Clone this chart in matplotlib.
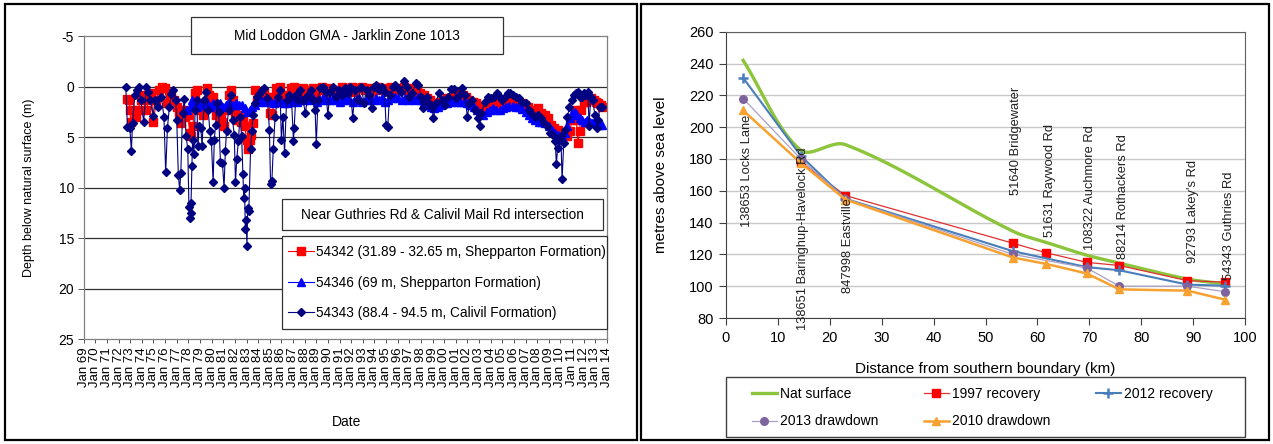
import numpy as np
import matplotlib
matplotlib.use("Agg")
import matplotlib.pyplot as plt
from matplotlib.patches import Rectangle

plt.rcParams['font.family'] = ['Liberation Sans', 'DejaVu Sans']
plt.rcParams['axes.unicode_minus'] = False

# ---------------- LEFT CHART DATA (decimal year, depth m) ----------------
left_title = "Mid Loddon GMA - Jarklin Zone 1013"
legend_title = "Near Guthries Rd & Calivil Mail Rd intersection"
series_names = ["54342 (31.89 - 32.65 m, Shepparton Formation)",
                "54346 (69 m, Shepparton Formation)",
                "54343 (88.4 - 94.5 m, Calivil Formation)"]

s54342_t = [1972.69, 1972.90, 1972.97, 1973.04, 1973.25, 1973.46, 1973.67, 1973.90, 1974.16, 1974.37,
            1974.60, 1974.80, 1975.00, 1975.25, 1975.50, 1975.74, 1975.95, 1976.17, 1976.40, 1976.55,
            1976.80, 1977.00, 1977.20, 1977.35, 1977.50, 1977.75, 1977.95, 1978.13, 1978.27, 1978.40,
            1978.58, 1978.75, 1978.90, 1979.07, 1979.25, 1979.42, 1979.63, 1979.77, 1979.98, 1980.16,
            1980.34, 1980.55, 1980.76, 1980.93, 1981.10, 1981.28, 1981.46, 1981.63, 1981.80, 1981.98,
            1982.16, 1982.33, 1982.50, 1982.70, 1982.86, 1983.00, 1983.14, 1983.28, 1983.42, 1983.56,
            1983.70, 1983.90, 1984.10, 1984.30, 1984.50, 1984.80, 1985.04, 1985.20, 1985.40, 1985.56,
            1985.74, 1985.90, 1986.10, 1986.30, 1986.55, 1986.80, 1987.07, 1987.36, 1987.60, 1987.88,
            1988.13, 1988.40, 1988.70, 1988.97, 1989.25, 1989.53, 1989.80, 1990.10, 1990.40, 1990.66,
            1990.93, 1991.20, 1991.50, 1991.76, 1992.06, 1992.34, 1992.60, 1992.90, 1993.18, 1993.46,
            1993.75, 1994.03, 1994.30, 1994.60, 1994.87, 1995.15, 1995.43, 1995.70, 1996.00, 1996.27,
            1996.55, 1996.83, 1997.10, 1997.40, 1997.67, 1997.96, 1998.24, 1998.50, 1998.80, 1999.08,
            1999.36, 1999.64, 1999.92, 2000.20, 2000.50, 2000.77, 2001.05, 2001.33, 2001.60, 2001.90,
            2002.17, 2002.45, 2002.73, 2003.00, 2003.30, 2003.57, 2003.85, 2004.13, 2004.40, 2004.70,
            2004.98, 2005.26, 2005.54, 2005.82, 2006.10, 2006.38, 2006.66, 2006.94, 2007.22, 2007.50,
            2007.78, 2008.07, 2008.35, 2008.63, 2008.90, 2009.20, 2009.47, 2009.75, 2010.03, 2010.30,
            2010.60, 2010.80, 2011.00, 2011.22, 2011.36, 2011.50, 2011.65, 2011.80, 2012.00, 2012.20,
            2012.42, 2012.63, 2012.84, 2013.05, 2013.26, 2013.47, 2013.60]
s54342_d = [1.25, 1.3, 2.3, 3.5, 2.3, 3.0, 2.3, 1.3, 0.8, 2.3,
            1.3, 0.65, 3.5, 1.3, 0.3, 0.05, 0.15, 1.6, 1.0, 0.65,
            1.3, 2.0, 2.6, 3.6, 2.3, 3.0, 2.8, 4.6, 4.9, 3.9,
            0.65, 0.3, 2.3, 2.0, 2.8, 2.0, 0.15, 0.8, 1.3, 1.0,
            2.8, 2.3, 3.0, 3.5, 3.9, 2.3, 0.8, 0.3, 1.3, 2.6,
            3.3, 2.8, 3.5, 3.1, 3.9, 5.3, 6.2, 5.3, 4.8, 3.6,
            0.3, 1.3, 0.8, 1.0, 0.5, 1.0, 2.6, 2.8, 1.0, 0.15,
            0.5, 0.05, 1.3, 0.8, 1.3, 0.15, 0.05, 1.0, 0.5, 0.15,
            0.65, 0.3, 0.15, 0.8, 0.3, 0.05, 0.5, 0.15, 0.3, 0.65,
            0.3, 0.05, 0.5, 0.15, 0.05, 0.5, 0.15, 0.05, 0.3, 0.15,
            0.5, 0.15, 0.05, 0.3, 0.15, 0.3, 0.05, 0.25, 0.15, 0.3,
            0.05, 0.3, 0.15, 0.5, 0.3, 0.65, 0.8, 1.15, 1.3, 1.6,
            1.8, 1.5, 1.3, 1.15, 1.15, 1.0, 0.65, 1.0, 0.8, 1.0,
            1.3, 1.5, 1.6, 2.0, 2.1, 1.8, 1.6, 1.8, 1.6, 1.6,
            1.8, 1.6, 1.5, 1.5, 1.5, 1.6, 1.6, 1.8, 2.0, 2.3,
            2.5, 2.1, 2.6, 2.8, 3.1, 3.8, 4.1, 4.3, 4.6, 4.9,
            4.9, 4.4, 3.3, 2.3, 3.3, 5.6, 4.4, 2.3, 1.5, 1.5,
            1.3, 1.15, 1.3, 1.5, 1.6, 1.8, 2.0]

s54346_t = [1977.88, 1978.13, 1978.30, 1978.52, 1978.72, 1978.93, 1979.18, 1979.42, 1979.63, 1979.88,
            1980.13, 1980.40, 1980.70, 1980.97, 1981.25, 1981.53, 1981.80, 1982.10, 1982.37, 1982.65,
            1982.86, 1983.07, 1983.28, 1983.50, 1983.74, 1984.00, 1984.27, 1984.55, 1984.83, 1985.10,
            1985.40, 1985.67, 1985.95, 1986.24, 1986.52, 1986.80, 1987.07, 1987.36, 1987.64, 1987.92,
            1988.20, 1988.48, 1988.76, 1989.04, 1989.32, 1989.60, 1989.90, 1990.17, 1990.45, 1990.73,
            1991.00, 1991.30, 1991.57, 1991.85, 1992.13, 1992.40, 1992.70, 1992.97, 1993.25, 1993.53,
            1993.80, 1994.10, 1994.38, 1994.66, 1994.94, 1995.20, 1995.50, 1995.78, 1996.06, 1996.34,
            1996.62, 1996.90, 1997.20, 1997.47, 1997.75, 1998.03, 1998.30, 1998.60, 1998.87, 1999.15,
            1999.43, 1999.70, 2000.00, 2000.27, 2000.55, 2000.84, 2001.12, 2001.40, 2001.68, 2001.96,
            2002.24, 2002.52, 2002.80, 2003.08, 2003.36, 2003.64, 2003.92, 2004.20, 2004.48, 2004.77,
            2005.05, 2005.33, 2005.60, 2005.90, 2006.17, 2006.45, 2006.73, 2007.00, 2007.30, 2007.57,
            2007.85, 2008.14, 2008.42, 2008.70, 2009.00, 2009.26, 2009.54, 2009.82, 2010.10, 2010.40,
            2010.60, 2010.80, 2011.00, 2011.22, 2011.43, 2011.65, 2011.86, 2012.07, 2012.28, 2012.50,
            2012.70, 2012.90, 2013.12, 2013.33, 2013.54]
s54346_d = [2.3, 2.0, 1.3, 1.6, 2.0, 1.6, 1.5, 1.8, 1.5, 2.0,
            1.6, 1.8, 1.6, 2.0, 1.8, 1.5, 1.8, 1.6, 1.8, 1.8,
            2.1, 2.5, 2.3, 2.0, 1.8, 1.5, 1.3, 1.5, 1.3, 1.5,
            1.6, 1.5, 1.5, 1.6, 1.6, 1.5, 1.3, 1.5, 1.3, 1.3,
            1.15, 1.3, 1.15, 1.5, 1.3, 1.15, 1.3, 1.3, 1.15, 1.3,
            1.5, 1.3, 1.15, 1.3, 1.5, 1.3, 1.15, 1.5, 1.3, 1.15,
            1.3, 1.15, 1.3, 1.15, 1.5, 1.3, 1.15, 1.0, 1.15, 1.3,
            1.15, 1.3, 1.15, 1.3, 1.0, 1.3, 1.5, 1.8, 2.0, 2.1,
            2.0, 1.8, 1.6, 1.6, 1.5, 1.3, 1.5, 1.5, 1.5, 1.6,
            1.8, 2.0, 2.3, 2.6, 2.8, 2.5, 2.3, 2.1, 2.3, 2.3,
            2.1, 2.0, 1.9, 1.9, 2.0, 2.05, 2.25, 2.5, 2.8, 3.1,
            3.3, 3.5, 3.5, 3.6, 3.9, 4.3, 4.6, 4.8, 4.9, 4.6,
            3.9, 3.1, 2.6, 2.5, 2.8, 3.1, 3.3, 3.5, 3.3, 3.5,
            3.6, 3.5, 3.6, 3.8, 3.8]

s54343_t = [1972.62, 1972.76, 1972.97, 1973.10, 1973.20, 1973.40, 1973.56, 1973.74, 1973.90, 1974.16,
            1974.37, 1974.50, 1974.70, 1974.97, 1975.14, 1975.40, 1975.67, 1975.90, 1976.05, 1976.20,
            1976.37, 1976.55, 1976.72, 1976.90, 1977.00, 1977.14, 1977.25, 1977.35, 1977.50, 1977.66,
            1977.80, 1977.95, 1978.05, 1978.13, 1978.20, 1978.23, 1978.30, 1978.36, 1978.48, 1978.58,
            1978.72, 1978.83, 1978.93, 1979.07, 1979.18, 1979.35, 1979.53, 1979.70, 1979.85, 1979.98,
            1980.13, 1980.23, 1980.34, 1980.48, 1980.60, 1980.76, 1980.93, 1981.07, 1981.18, 1981.28,
            1981.46, 1981.63, 1981.80, 1981.95, 1982.05, 1982.16, 1982.30, 1982.44, 1982.58, 1982.69,
            1982.76, 1982.83, 1982.90, 1982.97, 1983.04, 1983.10, 1983.20, 1983.35, 1983.46, 1983.56,
            1983.74, 1983.90, 1984.10, 1984.30, 1984.50, 1984.80, 1984.97, 1985.07, 1985.18, 1985.30,
            1985.46, 1985.67, 1985.88, 1986.00, 1986.13, 1986.27, 1986.45, 1986.65, 1986.86, 1987.04,
            1987.10, 1987.25, 1987.40, 1987.60, 1987.85, 1988.06, 1988.30, 1988.55, 1988.76, 1988.90,
            1989.00, 1989.15, 1989.36, 1989.60, 1989.80, 1990.00, 1990.17, 1990.40, 1990.66, 1990.93,
            1991.20, 1991.46, 1991.74, 1991.92, 1992.13, 1992.34, 1992.60, 1992.87, 1993.10, 1993.32,
            1993.57, 1993.75, 1993.95, 1994.17, 1994.38, 1994.62, 1994.87, 1995.00, 1995.15, 1995.30,
            1995.57, 1995.78, 1996.03, 1996.27, 1996.55, 1996.76, 1997.00, 1997.26, 1997.54, 1997.78,
            1998.03, 1998.17, 1998.30, 1998.50, 1998.73, 1998.94, 1999.08, 1999.30, 1999.53, 1999.78,
            2000.06, 2000.34, 2000.60, 2000.84, 2001.05, 2001.26, 2001.50, 2001.75, 2002.00, 2002.17,
            2002.40, 2002.63, 2002.87, 2003.05, 2003.20, 2003.50, 2003.75, 2004.03, 2004.27, 2004.52,
            2004.77, 2004.98, 2005.22, 2005.47, 2005.68, 2005.93, 2006.17, 2006.45, 2006.73, 2007.01,
            2007.26, 2007.50, 2007.78, 2008.07, 2008.30, 2008.56, 2008.84, 2009.12, 2009.37, 2009.54,
            2009.65, 2009.75, 2009.89, 2010.03, 2010.14, 2010.28, 2010.42, 2010.60, 2010.77, 2010.95,
            2011.12, 2011.30, 2011.47, 2011.65, 2011.82, 2012.00, 2012.17, 2012.35, 2012.46, 2012.60,
            2012.77, 2012.95, 2013.12, 2013.23, 2013.40, 2013.57]
s54343_d = [0.0, 4.0, 4.1, 6.4, 3.6, 0.8, 0.3, 0.0, 1.3, 3.5,
            0.0, 0.5, 1.3, 2.9, 1.3, 2.0, 1.0, 3.0, 8.5, 4.1,
            2.0, 0.7, 0.3, 1.3, 3.3, 8.8, 10.2, 8.6, 2.6, 1.25,
            4.9, 6.2, 11.9, 13.0, 12.5, 11.5, 7.9, 5.3, 6.7, 2.3,
            1.3, 5.9, 3.9, 4.1, 5.9, 1.3, 0.5, 2.3, 4.4, 5.4,
            9.5, 5.3, 3.8, 1.6, 2.5, 7.5, 7.6, 10.0, 6.4, 4.4,
            2.3, 0.8, 3.3, 4.8, 9.5, 7.2, 5.4, 3.0, 4.9, 8.7,
            11.0, 10.0, 14.1, 13.2, 15.8, 12.0, 12.3, 6.2, 4.4, 2.8,
            1.6, 1.0, 0.7, 0.3, 0.1, 1.15, 4.3, 9.7, 9.4, 6.2,
            3.0, 1.0, 0.3, 5.3, 3.0, 6.6, 1.3, 0.8, 1.0, 5.4,
            4.1, 0.8, 1.3, 0.3, 1.3, 2.6, 0.8, 0.3, 1.3, 2.3,
            5.7, 1.3, 0.15, 0.0, 0.5, 2.8, 0.5, 0.0, 1.0, 0.3,
            0.8, 0.15, 0.65, 0.0, 3.1, 0.3, 1.3, 0.05, 1.6, 0.3,
            0.8, 2.1, 0.05, -0.15, 0.3, 0.0, 0.5, 3.8, 4.0, 0.8,
            0.05, -0.15, 0.15, 0.5, -0.5, 0.05, 1.0, 0.65, -0.3, -0.15,
            1.0, 2.1, 1.5, 1.0, 1.6, 2.1, 3.1, 1.6, 0.6, 1.3,
            1.8, 1.0, 0.25, 0.25, 1.15, 0.8, 0.15, 0.8, 3.0, 1.6,
            1.3, 2.3, 3.1, 3.9, 2.6, 1.5, 1.0, 1.15, 1.0, 0.6,
            1.0, 1.3, 1.0, 0.65, 0.6, 0.8, 1.0, 1.15, 1.5, 1.6,
            2.3, 2.6, 3.0, 2.8, 3.1, 3.6, 3.9, 4.6, 4.8, 5.4,
            7.7, 6.1, 5.3, 4.9, 9.2, 5.6, 4.3, 3.0, 2.0, 1.3,
            0.8, 0.65, 0.5, 1.0, 1.0, 0.65, 0.8, 0.5, 3.9, 1.0,
            1.3, 2.8, 4.1, 3.3, 2.0, 2.0]

years = list(range(1969, 2015))
date_labels = [f"Jan {y % 100:02d}" for y in years]

# ---------------- RIGHT CHART DATA ----------------
stations = ["138653 Locks Lane", "138651 Baringhup-Havelock Rd", "847998 Eastville",
            "51640 Bridgewater", "51631 Raywood Rd", "108322 Auchmore Rd",
            "88214 Rothackers Rd", "92793 Lakey's Rd", "54343 Guthries Rd"]
station_km = [3.3, 14.4, 23.0, 55.3, 61.7, 69.5, 75.8, 88.9, 96.2]
nat_surface = [242, 185.5, 189, 134.5, 127.5, 119.5, 114.5, 104.5, 101.5]
rec1997_km = [14.4, 23.0, 55.3, 61.7, 69.5, 75.8, 88.9, 96.2]
rec1997 = [178, 157, 127, 121, 115, 113, 103.5, 102.5]
rec2012_km = [3.3, 14.4, 23.0, 55.3, 69.5, 75.8, 88.9, 96.2]
rec2012 = [231, 182, 155, 122, 112, 110, 101, 100.3]
dd2013_km = [3.3, 14.4, 23.0, 55.3, 69.5, 75.8, 88.9, 96.2]
dd2013 = [218, 180, 155, 120, 111.5, 100, 100, 96.5]
dd2010 = [210.5, 177.5, 154.5, 118, 114, 108, 98, 97.2, 91.5]
# label anchor (x centre, y bottom) for the vertical station texts
label_x = [4.05, 14.9, 23.5, 55.8, 62.4, 70.2, 76.4, 90.0, 97.0]
label_y = [137, 72.7, 95.7, 157.4, 131, 123, 117, 114.5, 104]

# ---------------- FIGURE ----------------
W, H = 1273, 444
fig = plt.figure(figsize=(W / 100, H / 100), dpi=100)


def fx(x):
    return x / W


def fy(y):
    return 1 - y / H


def rect_px(x0, y0, x1, y1, **kw):
    r = Rectangle((fx(x0), fy(y1)), fx(x1) - fx(x0), fy(y0) - fy(y1),
                  transform=fig.transFigure, **kw)
    fig.add_artist(r)
    return r


# panel frames
rect_px(5, 4, 637, 440, fill=False, edgecolor='black', linewidth=1.6, zorder=10)
rect_px(641, 4, 1269, 440, fill=False, edgecolor='black', linewidth=1.6, zorder=10)

# ---------- left chart ----------
ax1 = fig.add_axes([fx(83.7), fy(339), fx(607) - fx(83.7), fy(36) - fy(339)])
l1, = ax1.plot(s54342_t, s54342_d, color='#FF0000', lw=0.8, marker='s', ms=5.6,
               mec='#FF0000', mfc='#FF0000')
l2, = ax1.plot(s54346_t, s54346_d, color='#0000FF', lw=0.8, marker='^', ms=5.6,
               mec='#0000FF', mfc='#0000FF')
l3, = ax1.plot(s54343_t, s54343_d, color='#000080', lw=0.8, marker='D', ms=4.0,
               mec='#000080', mfc='#000080')
ax1.set_xlim(1969, 2014)
ax1.set_ylim(25, -5)
ax1.set_yticks([-5, 0, 5, 10, 15, 20, 25])
ax1.set_xticks(years)
ax1.set_xticklabels(date_labels, rotation=90, fontsize=9.5)
ax1.tick_params(axis='x', length=3, width=0.7, pad=3, colors='#555555', labelcolor='black')
ax1.tick_params(axis='y', length=4, width=0.7, pad=3, labelsize=10, colors='#555555',
                labelcolor='black')
for yv in [0, 5, 10, 15, 20]:
    ax1.axhline(yv, color='#303030', lw=0.9, zorder=0.5)
for s in ax1.spines.values():
    s.set_color('#808080')
    s.set_linewidth(0.9)
ax1.set_xlabel("Date", fontsize=10)
ax1.xaxis.set_label_coords((347 - 83.7) / (607 - 83.7), -(415 - 339) / 303)
ax1.set_ylabel("Depth below natural surface (m)", fontsize=9)
ax1.yaxis.set_label_coords((35 - 83.7) / (607 - 83.7), 0.5)

# title box
rect_px(191, 17, 503, 54, facecolor='white', edgecolor='#333333', linewidth=0.9, zorder=11)
fig.text(fx(347), fy(35.5), left_title, ha='center', va='center', fontsize=9.8, zorder=12)
# legend title box
rect_px(282, 199, 603, 230, facecolor='white', edgecolor='#333333', linewidth=0.9, zorder=11)
fig.text(fx(442.5), fy(214.5), legend_title, ha='center', va='center', fontsize=9.8, zorder=12)
# legend box
rect_px(282, 236, 607, 329, facecolor='white', edgecolor='#333333', linewidth=0.9, zorder=11)
leg1 = fig.legend([l1, l2, l3], series_names, loc='center left',
                  bbox_to_anchor=(fx(288), fy(282.5)), bbox_transform=fig.transFigure,
                  frameon=False, fontsize=9.8, handlelength=1.9, handletextpad=0.15,
                  labelspacing=1.2, borderpad=0, borderaxespad=0)
leg1.set_zorder(13)

# ---------- right chart ----------
ax2_box = [fx(726), fy(318), fx(1245) - fx(726), fy(31.7) - fy(318)]
ax2 = fig.add_axes(ax2_box)
XMIN, XMAX, YMIN, YMAX = 0, 100, 80, 260
sx = (1245 - 726) / (XMAX - XMIN)   # px per km
sy = (318 - 31.7) / (YMAX - YMIN)   # px per m


def excel_smooth(x, y, n=40):
    # chord-length weighted Bezier smoothing (screen space), similar to spreadsheet "smoothed line"
    pts = np.column_stack([np.asarray(x, float) * sx, np.asarray(y, float) * sy])
    out = [pts[0]]
    t = np.linspace(0, 1, n)[1:, None]
    for i in range(len(pts) - 1):
        p0 = pts[i - 1] if i > 0 else pts[i]
        p1, p2 = pts[i], pts[i + 1]
        p3 = pts[i + 2] if i + 2 < len(pts) else pts[i + 1]
        d01 = np.linalg.norm(p1 - p0)
        d12 = np.linalg.norm(p2 - p1)
        d23 = np.linalg.norm(p3 - p2)
        c1 = p1 + (p2 - p0) * (d12 / (d01 + d12)) / 3 if d01 > 0 else p1 + (p2 - p1) / 3
        c2 = p2 - (p3 - p1) * (d12 / (d12 + d23)) / 3 if d23 > 0 else p2 - (p2 - p1) / 3
        seg = (1 - t) ** 3 * p1 + 3 * (1 - t) ** 2 * t * c1 + 3 * (1 - t) * t ** 2 * c2 + t ** 3 * p2
        out.extend(seg)
    out = np.array(out)
    return out[:, 0] / sx, out[:, 1] / sy


smx, smy = excel_smooth(station_km, nat_surface)
h_nat, = ax2.plot(smx, smy, color='#8CC43C', lw=2.4, label='Nat surface', zorder=3)
h97, = ax2.plot(rec1997_km, rec1997, color='#E03030', lw=0.9, marker='s', ms=5.5,
                mfc='#FF0000', mec='#FF0000', label='1997 recovery', zorder=3)
h12, = ax2.plot(rec2012_km, rec2012, color='#4A7EBB', lw=1.5, marker='+', ms=7, mew=1.8,
                label='2012 recovery', zorder=4)
h13, = ax2.plot(dd2013_km, dd2013, color='#A8A0C4', lw=0.9, marker='o', ms=5.5,
                mfc='#7E649E', mec='#7E649E', label='2013 drawdown', zorder=4)
h10, = ax2.plot(station_km, dd2010, color='#F7A130', lw=1.8, marker='^', ms=5.5,
                mfc='#F7A130', mec='#F7A130', label='2010 drawdown', zorder=4)
ax2.set_xlim(XMIN, XMAX)
ax2.set_ylim(YMIN, YMAX)
ax2.set_xticks(range(0, 101, 10))
ax2.set_yticks(range(80, 261, 20))
ax2.grid(axis='y', color='#C8C8C8', lw=1.0, zorder=0)
ax2.set_axisbelow(True)
ax2.tick_params(axis='both', length=5, width=0.8, pad=4, labelsize=10.5,
                colors='#404040', labelcolor='black')
for side in ['left', 'bottom']:
    ax2.spines[side].set_color('#404040')
for side in ['top', 'right']:
    ax2.spines[side].set_color('#606060')
ax2.set_xlabel("Distance from southern boundary (km)", fontsize=11)
ax2.xaxis.set_label_coords((985.5 - 726) / (1245 - 726), -(362 - 318) / 286.3)
ax2.set_ylabel("metres above sea level", fontsize=11)
ax2.yaxis.set_label_coords((668 - 726) / (1245 - 726), 0.5)

for name, xk, yb in zip(stations, label_x, label_y):
    ax2.text(xk, yb, name, rotation=90, ha='center', va='bottom', fontsize=9.3,
             color='#202020', clip_on=False, zorder=6)

rect_px(726, 377, 1245, 437, fill=False, edgecolor='#404040', linewidth=1.0, zorder=11)
leg2 = fig.legend([h_nat, h13, h97, h10, h12],
                  ['Nat surface', '2013 drawdown', '1997 recovery', '2010 drawdown', '2012 recovery'],
                  ncol=3, loc='center',
                  bbox_to_anchor=(fx(982), fy(407.5)), bbox_transform=fig.transFigure,
                  frameon=False, fontsize=10, handlelength=1.8, handletextpad=0.2,
                  columnspacing=3.3, labelspacing=1.0, borderpad=0, borderaxespad=0)

fig.savefig("out.png", dpi=100)
